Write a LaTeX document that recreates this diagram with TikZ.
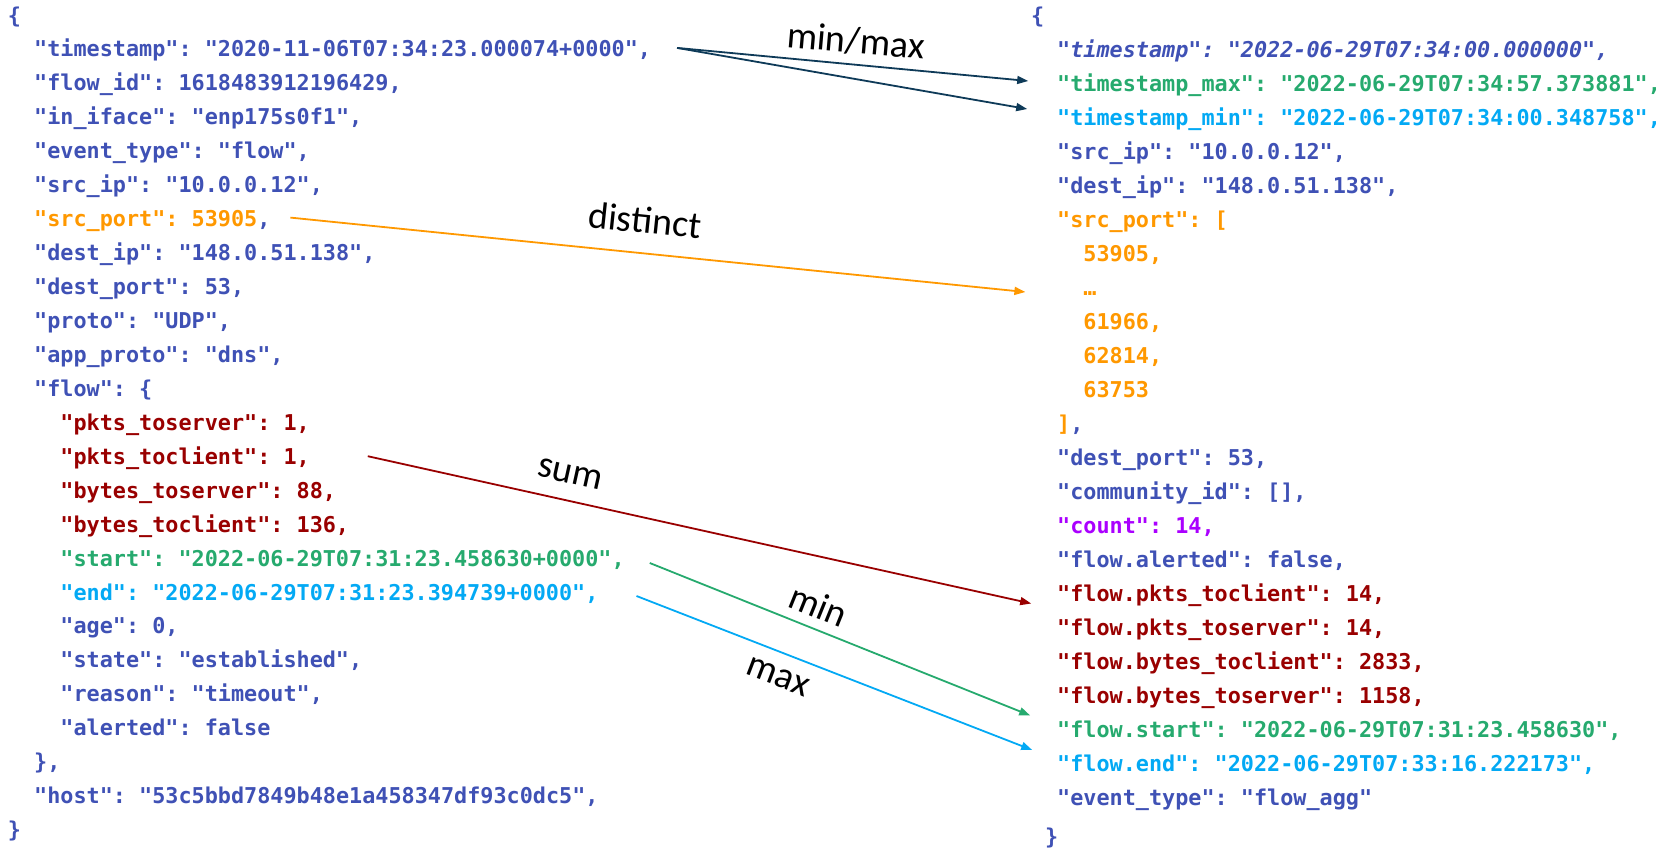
\documentclass[tikz,border=0pt]{standalone}
\usepackage{fontspec}
\setmonofont{DejaVu Sans Mono}
\newfontfamily\opfont{Carlito}
\usetikzlibrary{arrows.meta,calc}

\definecolor{jkey}{RGB}{63,81,181}
\definecolor{jorange}{RGB}{255,152,0}
\definecolor{jred}{RGB}{153,0,0}
\definecolor{jgreen}{RGB}{38,170,110}
\definecolor{jsky}{RGB}{3,169,244}
\definecolor{jpurple}{RGB}{170,0,255}
\definecolor{jnavy}{RGB}{14,58,88}

\newcommand\codefont{\ttfamily\bfseries\fontsize{21.8}{34}\selectfont}

\tikzset{
  code/.style={anchor=base west, inner sep=0pt, outer sep=0pt, font=\codefont, text=jkey},
  oplabel/.style={inner sep=0pt, font=\opfont\fontsize{38}{40}\selectfont, text=black},
  agg/.style={line width=1.8pt, -{Triangle[length=11pt,width=8pt]}},
}

\begin{document}
\begin{tikzpicture}[x=1pt,y=-1pt]
\useasboundingbox (0,0) rectangle (1672,849);

% ---- raw flow event ----
\node[code] (l0)  at (8,23)       {\{};
\node[code] (lts) at (34.2,56.9)  {"timestamp": "2020-11-06T07:34:23.000074+0000",};
\node[code] (l2)  at (34.2,90.9)  {"flow\_id": 1618483912196429,};
\node[code] (l3)  at (34.2,124.8) {"in\_iface": "enp175s0f1",};
\node[code] (l4)  at (34.2,158.8) {"event\_type": "flow",};
\node[code] (l5)  at (34.2,192.7) {"src\_ip": "10.0.0.12",};
\node[code] (lsp) at (34.2,226.6) {\textcolor{jorange}{"src\_port": 53905},};
\node[code] (l7)  at (34.2,260.6) {"dest\_ip": "148.0.51.138",};
\node[code] (l8)  at (34.2,294.5) {"dest\_port": 53,};
\node[code] (l9)  at (34.2,328.5) {"proto": "UDP",};
\node[code] (l10) at (34.2,362.4) {"app\_proto": "dns",};
\node[code] (l11) at (34.2,396.3) {"flow": \{};
\node[code,text=jred] (l12) at (60.4,430.3) {"pkts\_toserver": 1,};
\node[code,text=jred] (lpc) at (60.4,464.2) {"pkts\_toclient": 1,};
\node[code,text=jred] (l14) at (60.4,498.2) {"bytes\_toserver": 88,};
\node[code,text=jred] (l15) at (60.4,532.1) {"bytes\_toclient": 136,};
\node[code,text=jgreen] (lst) at (60.4,566.0) {"start": "2022-06-29T07:31:23.458630+0000",};
\node[code,text=jsky] (len) at (60.4,600.0) {"end": "2022-06-29T07:31:23.394739+0000",};
\node[code] (l18) at (60.4,633.9) {"age": 0,};
\node[code] (l19) at (60.4,667.9) {"state": "established",};
\node[code] (l20) at (60.4,701.8) {"reason": "timeout",};
\node[code] (l21) at (60.4,735.7) {"alerted": false};
\node[code] (l22) at (34.2,769.7) {\},};
\node[code] (l23) at (34.2,803.6) {"host": "53c5bbd7849b48e1a458347df93c0dc5",};
\node[code] (l24) at (8,837.6)    {\}};

% ---- aggregated flow record ----
\node[code] (r0)  at (1031,23)     {\{};
\node[code] (r1)  at (1057.2,57)   {\itshape "timestamp": "2022-06-29T07:34:00.000000",};
\node[code,text=jgreen] (rmax) at (1057.2,91)  {"timestamp\_max": "2022-06-29T07:34:57.373881",};
\node[code,text=jsky]   (rmin) at (1057.2,125) {"timestamp\_min": "2022-06-29T07:34:00.348758",};
\node[code] (r4)  at (1057.2,159)  {"src\_ip": "10.0.0.12",};
\node[code] (r5)  at (1057.2,193)  {"dest\_ip": "148.0.51.138",};
\node[code,text=jorange] (rsp) at (1057.2,227) {"src\_port": [};
\node[code,text=jorange] (r7)  at (1083.4,261) {53905,};
\node[code,text=jorange] (rdots) at (1083.4,295) {…};
\node[code,text=jorange] (r9)  at (1083.4,329) {61966,};
\node[code,text=jorange] (r10) at (1083.4,363) {62814,};
\node[code,text=jorange] (r11) at (1083.4,397) {63753};
\node[code] (r12) at (1057.2,431) {\textcolor{jorange}{]},};
\node[code] (r13) at (1057.2,465) {"dest\_port": 53,};
\node[code] (r14) at (1057.2,499) {"community\_id": [],};
\node[code,text=jpurple] (r15) at (1057.2,533) {"count": 14,};
\node[code] (r16) at (1057.2,567) {"flow.alerted": false,};
\node[code,text=jred] (rpc) at (1057.2,601) {"flow.pkts\_toclient": 14,};
\node[code,text=jred] (r18) at (1057.2,635) {"flow.pkts\_toserver": 14,};
\node[code,text=jred] (r19) at (1057.2,669) {"flow.bytes\_toclient": 2833,};
\node[code,text=jred] (r20) at (1057.2,703) {"flow.bytes\_toserver": 1158,};
\node[code,text=jgreen] (rst) at (1057.2,737) {"flow.start": "2022-06-29T07:31:23.458630",};
\node[code,text=jsky]   (ren) at (1057.2,771) {"flow.end": "2022-06-29T07:33:16.222173",};
\node[code] (r23) at (1057.2,805) {"event\_type": "flow\_agg"};
\node[code] (r24) at (1045,844)    {\}};

% ---- aggregation connectors ----
\coordinate (tsfrom) at ($(lts.base east)+(26,-9)$);
\draw[agg,jnavy] (tsfrom) -- ($(rmax.base west)+(-29,-10)$);
\draw[agg,jnavy] (tsfrom) -- ($(rmin.base west)+(-30,-16)$);
\draw[agg,jorange] ($(lsp.base east)+(20,-9)$) -- ($(rdots.base west)+(-58,-3)$);
\draw[agg,jred] ($(lpc.base east)+(58,-8)$) -- ($(rpc.base west)+(-26,2.5)$);
\draw[agg,jgreen] ($(lst.base east)+(25,-3)$) -- ($(rst.base west)+(-27,-21.5)$);
\draw[agg,jsky] ($(len.base east)+(38,-4)$) -- ($(ren.base west)+(-25,-21)$);

% ---- operation names ----
\node[oplabel,rotate=-5]    (opmm)   at (856,41)  {min/max};
\node[oplabel,rotate=-6]    (opdist) at (645,220) {distinct};
\node[oplabel,rotate=-12.5] (opsum)  at (570,474) {sum};
\node[oplabel,rotate=-22]   (opmin)  at (819,605) {min};
\node[oplabel,rotate=-21]   (opmax)  at (778,677) {max};
\end{tikzpicture}
\end{document}
